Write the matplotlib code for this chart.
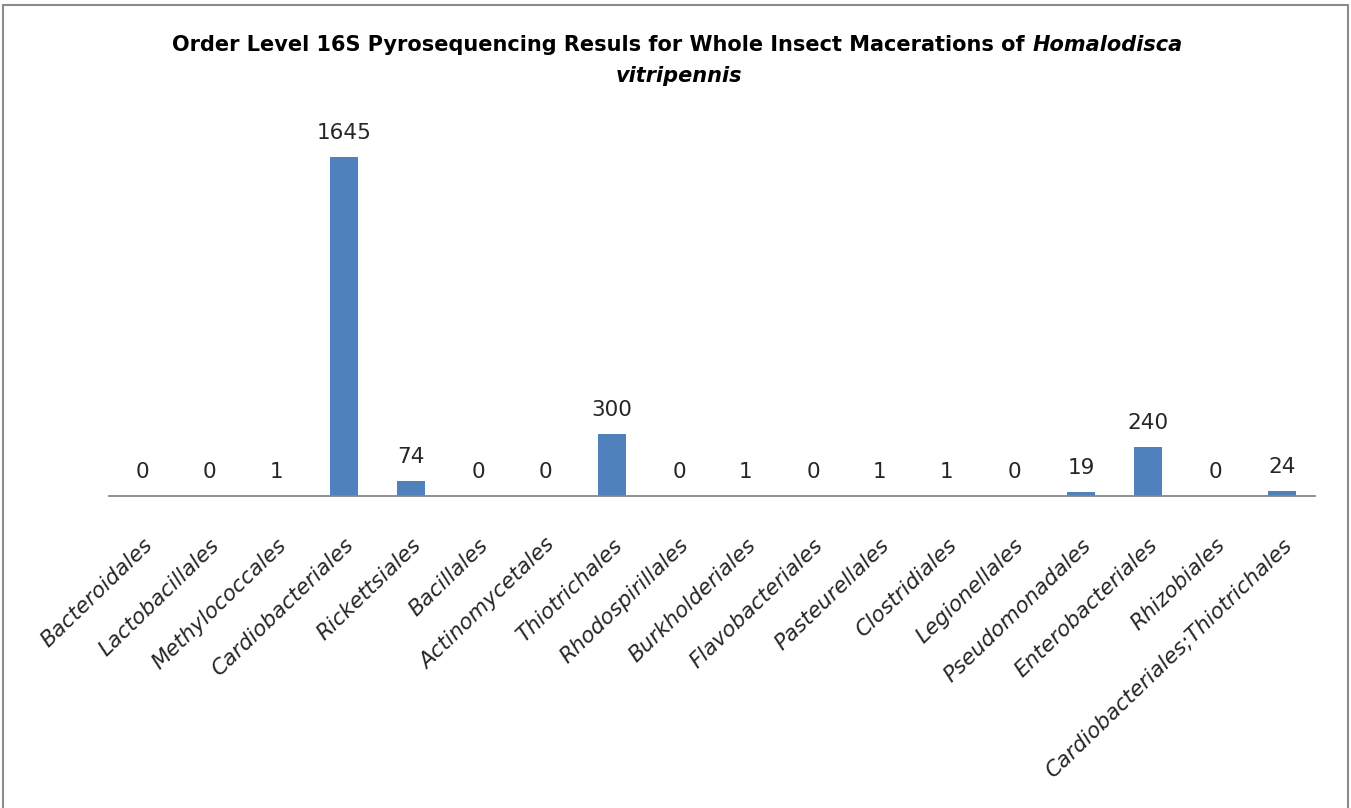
import matplotlib
matplotlib.use("Agg")
import matplotlib.pyplot as plt
from matplotlib.patches import Rectangle
import numpy as np

plt.rcParams['font.family'] = ['DejaVu Sans']

orders = ['Bacteroidales', 'Lactobacillales', 'Methylococcales', 'Cardiobacteriales',
          'Rickettsiales', 'Bacillales', 'Actinomycetales', 'Thiotrichales',
          'Rhodospirillales', 'Burkholderiales', 'Flavobacteriales', 'Pasteurellales',
          'Clostridiales', 'Legionellales', 'Pseudomonadales', 'Enterobacteriales',
          'Rhizobiales', 'Cardiobacteriales;Thiotrichales']
reads = [0, 0, 1, 1645, 74, 0, 0, 300, 0, 1, 0, 1, 1, 0, 19, 240, 0, 24]

title_main = 'Order Level 16S Pyrosequencing Resuls for Whole Insect Macerations of '
title_species = ['Homalodisca', 'vitripennis']

fig = plt.figure(figsize=(13.51, 8.08), dpi=100, facecolor='white')
ax = fig.add_axes([0.081, 0.386, 0.8927, 0.459])

x = np.arange(len(orders))
bars = ax.bar(x, reads, width=0.42, color='#4F81BD')
ax.bar_label(bars, labels=[str(v) for v in reads], padding=10, fontsize=15.5, color='#262626')

ax.set_xlim(-0.5, len(orders) - 0.5)
ax.set_ylim(0, 1800)
ax.set_yticks([])
for s in ['top', 'right', 'left']:
    ax.spines[s].set_visible(False)
ax.spines['bottom'].set_color('#868686')
ax.spines['bottom'].set_linewidth(1.3)
ax.set_xticks(x)
ax.set_xticklabels(orders, rotation=44, ha='right', rotation_mode='anchor',
                   fontsize=15.5, style='italic', color='#262626')
ax.tick_params(axis='x', length=0, pad=28)

# title: bold, species name in italic; scaled to the width of the original
fig.canvas.draw()
r = fig.canvas.get_renderer()
tsize = 14
t1 = fig.text(0, 0.937, title_main, fontsize=tsize, fontweight='bold', va='baseline')
t2 = fig.text(0, 0.937, title_species[0], fontsize=tsize, fontweight='bold',
              style='italic', va='baseline')
w = t1.get_window_extent(r).width + t2.get_window_extent(r).width
tsize = tsize * 1015 / w
t1.set_fontsize(tsize)
t2.set_fontsize(tsize)
w1 = t1.get_window_extent(r).width / fig.bbox.width
w2 = t2.get_window_extent(r).width / fig.bbox.width
x0 = 0.5015 - (w1 + w2) / 2
t1.set_x(x0)
t2.set_x(x0 + w1)
fig.text(0.5025, 0.899, title_species[1], fontsize=tsize, fontweight='bold',
         style='italic', ha='center', va='baseline')

# chart border
fig.patches.append(Rectangle((3 / 1351, -0.02), 1345 / 1351, 0.02 + 803 / 808,
                             transform=fig.transFigure, fill=False,
                             edgecolor='#8c8c8c', linewidth=1.5))

plt.savefig('out.png', dpi=100, facecolor='white')
